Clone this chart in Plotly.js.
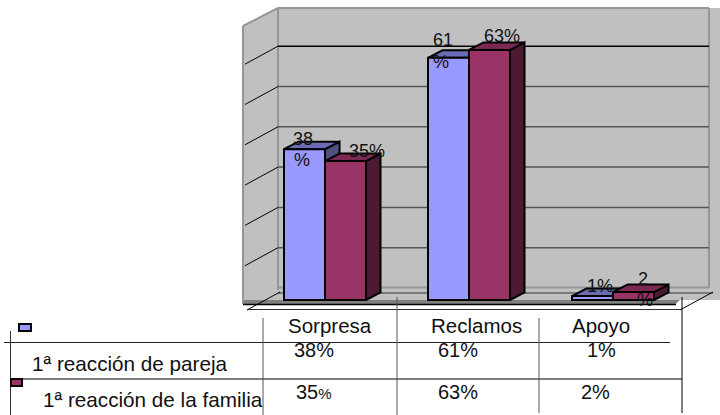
<!DOCTYPE html>
<html>
<head>
<meta charset="utf-8">
<script src="https://cdn.plot.ly/plotly-3.0.1.min.js"></script>
<style>html,body{margin:0;padding:0;background:#fff}#chart{width:720px;height:415px}</style>
</head>
<body>
<div id="chart"></div>
<script>
// Reaction categories and the share (%) reported by each group
const categories = ['Sorpresa', 'Reclamos', 'Apoyo'];
const parejaName = '1ª reacción de pareja';
const familiaName = '1ª reacción de la familia';
const pareja = [38, 61, 1];
const familia = [35, 63, 2];
const wallTicks = [10, 20, 30, 40, 50, 60];

const W = 720, H = 415;
// Scales: one category step is 144 px, one percentage point just under 4 px
const xPerPx = 1 / 144, yPerPx = 1 / 3.97;
const xRange = [-325 * xPerPx, (W - 325) * xPerPx];
const yRange = [-(H - 300) * yPerPx, 300 * yPerPx];
const px = x => x / W, py = y => 1 - y / H;
const barW = 41 * xPerPx;
const depthX = 14.5 * xPerPx, depthY = 7.5 * yPerPx;

const FONT = 'Liberation Sans, Arial, sans-serif';
const INK = '#111';

// Side and top faces of a bar's extrusion, derived from its value
function faces(i, v, left, sideColor, topColor) {
  const l = i + left, r = l + barW;
  return [
    { x: [r, r + depthX, r + depthX, r, r], y: [0, depthY, v + depthY, v, 0], color: sideColor },
    { x: [l, l + depthX, r + depthX, r, l], y: [v, v + depthY, v + depthY, v, v], color: topColor }
  ];
}
const faceTraces = [];
function addFaces(values, left, side, top) {
  values.forEach((v, i) => faces(i, v, left, side, top).forEach(f => faceTraces.push({
    type: 'scatter', mode: 'lines', x: f.x, y: f.y, fill: 'toself', fillcolor: f.color,
    line: { color: '#000', width: 2 }, hoverinfo: 'skip', showlegend: false, xaxis: 'x', yaxis: 'y'
  })));
}
addFaces(pareja, -barW, '#50507f', '#6c6cb4');
addFaces(familia, 0, '#4d1a33', '#7a2952');

const idx = categories.map((_, i) => i);
const barTrace = (name, vals, color) => ({
  type: 'bar', name, x: idx, y: vals, xaxis: 'x', yaxis: 'y2',
  marker: { color, line: { color: '#000', width: 2 } }, hoverinfo: 'skip', showlegend: false
});
const traces = faceTraces.concat([
  barTrace(parejaName, pareja, '#9999ff'),
  barTrace(familiaName, familia, '#993366')
]);

// Rear wall, side wall and floor of the 3D box
const backZero = 12;          // px the rear wall's zero sits above the front baseline
const wallY = v => 300 - backZero - v * 4.03;
const poly = (pts, fill, layer) => ({
  type: 'path', xref: 'paper', yref: 'paper', layer: layer || 'below',
  path: 'M' + pts.map(p => px(p[0]) + ',' + py(p[1])).join('L') + 'Z',
  fillcolor: fill, line: { width: 0 }
});
const seg = (x0, y0, x1, y1, color, width, layer) => ({
  type: 'line', xref: 'paper', yref: 'paper', layer: layer || 'below',
  x0: px(x0), y0: py(y0), x1: px(x1), y1: py(y1), line: { color, width }
});
const shapes = [
  poly([[278, 8], [720, 8], [720, 300], [278, 300]], '#c0c0c0'),
  poly([[243, 26], [278, 8], [278, 300], [243, 303]], '#c0c0c0'),
  poly([[243, 300], [680, 300], [675, 304.5], [243, 304.5]], '#808080'),
  seg(278, 8, 709, 8, '#969696', 2),
  seg(709, 8, 709, 288, '#969696', 2),
  seg(278, 8, 278, 290, '#969696', 2),
  seg(243, 26, 278, 8, '#969696', 2),
  seg(243, 26, 243, 304, '#969696', 2),
  seg(278, 287.5, 709, 287.5, '#969696', 2),
  seg(278, 293, 713, 293, '#7a7a7a', 2),
  seg(243, 304.5, 676, 304.5, '#000', 1.5),
  seg(247, 309.5, 680, 309.5, '#333', 1),
  seg(247, 310, 280, 292, '#000', 1),
  seg(680, 310, 713, 292, '#000', 1)
];
wallTicks.forEach(t => {
  const y = wallY(t);
  shapes.push(seg(278, y, 709, y, t === 60 ? '#000' : '#555', 1.5));
  shapes.push(seg(245, y + 18, 278, y, '#000', 1));
});

// Data table under the plot
shapes.push(
  seg(4, 342.5, 670, 342.5, '#222', 1, 'above'),
  seg(10, 379, 682, 379, '#555', 1.5, 'above'),
  seg(10.5, 331, 10.5, 415, '#333', 1, 'above'),
  seg(263, 318, 263, 415, '#555', 1, 'above'),
  seg(397, 297, 397, 415, '#555', 1, 'above'),
  seg(539, 318, 539, 413, '#555', 1, 'above'),
  seg(682, 297, 682, 413, '#000', 1, 'above')
);
// Legend keys
shapes.push(
  { type: 'rect', xref: 'paper', yref: 'paper', layer: 'above', x0: px(19), x1: px(31), y0: py(331), y1: py(324),
    fillcolor: '#9999ff', line: { color: '#000', width: 2 } },
  { type: 'rect', xref: 'paper', yref: 'paper', layer: 'above', x0: px(11), x1: px(22), y0: py(386), y1: py(379),
    fillcolor: '#993366', line: { color: '#000', width: 2 } }
);

const text = (x, y, t, size, anchor) => ({
  xref: 'paper', yref: 'paper', x: px(x), y: py(y), text: t, showarrow: false,
  xanchor: anchor || 'center', yanchor: 'middle', font: { family: FONT, size: size || 20, color: INK }
});
// Value labels follow the bars; narrow ones wrap the percent sign onto a second line
const dataLabel = (i, v, left, dxPx, dyPx, size) => ({
  xref: 'x', yref: 'y', x: i + left + dxPx * xPerPx, y: v + dyPx * yPerPx, text: String(v) + '%',
  showarrow: false, xanchor: 'center', yanchor: 'middle', font: { family: FONT, size: size || 18, color: INK }
});
const wrapped = (i, v, left, dxPx, topPx, pctDx, bottomPx) => [
  Object.assign(dataLabel(i, v, left, dxPx, topPx), { text: String(v) }),
  Object.assign(dataLabel(i, v, left, dxPx + pctDx, bottomPx), { text: '%' })
];
const annotations = [
  ...wrapped(0, pareja[0], -barW / 2, -2, 10, -1, -11),
  dataLabel(0, familia[0], barW / 2, 21, 10),
  ...wrapped(1, pareja[1], -barW / 2, -6, 18, -2, -4),
  dataLabel(1, familia[1], barW / 2, 12, 14),
  dataLabel(2, pareja[2], -barW / 2, 7, 10),
  ...wrapped(2, familia[2], barW / 2, 9, 13, 2, -8)
];

// Table text
const colCentres = [314, 458, 601];
const headCentres = [330, 476, 601];
categories.forEach((c, i) => {
  annotations.push(text(headCentres[i], 325, c, 20.5));
  annotations.push(text(colCentres[i], 350, pareja[i] + '%'));
  annotations.push(text(colCentres[i] - (i === 2 ? 6 : 0),  392,
    i === 0 ? familia[i] + '<span style="font-size:15px">%</span>' : familia[i] + '%'));
});
annotations.push(text(30, 363, parejaName, 20.7, 'left'));
annotations.push(text(41, 399, familiaName, 20.7, 'left'));

const axis = { visible: false, fixedrange: true, autorange: false };
const layout = {
  width: W, height: H, autosize: false,
  margin: { l: 0, r: 0, t: 0, b: 0, pad: 0 },
  paper_bgcolor: '#fff', plot_bgcolor: 'rgba(0,0,0,0)',
  barmode: 'group', bargap: 1 - 2 * barW, bargroupgap: 0,
  showlegend: false,
  xaxis: Object.assign({}, axis, { range: xRange, domain: [0, 1] }),
  yaxis: Object.assign({}, axis, { range: yRange, domain: [0, 1] }),
  yaxis2: Object.assign({}, axis, { range: yRange, overlaying: 'y' }),
  shapes, annotations
};
Plotly.newPlot('chart', traces, layout, { staticPlot: true, displayModeBar: false });
</script>
</body>
</html>
